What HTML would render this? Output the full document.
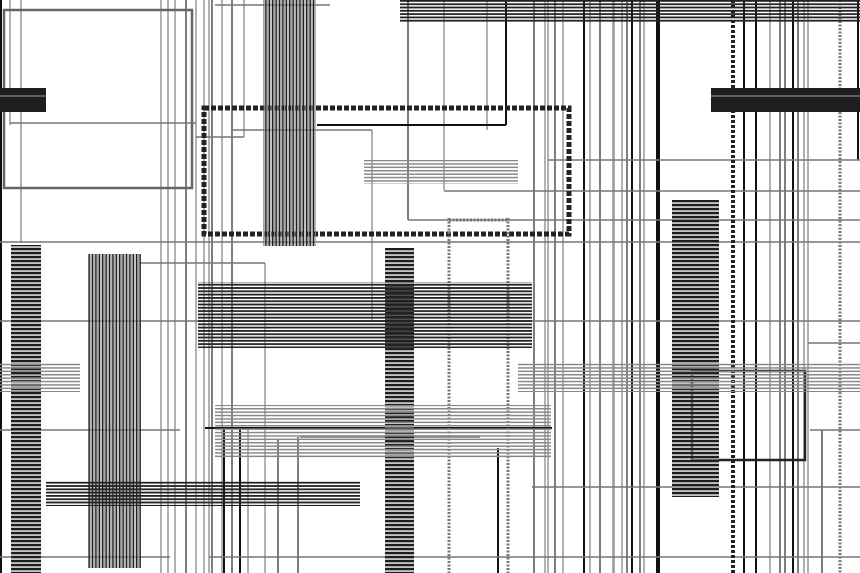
<!DOCTYPE html>
<html><head><meta charset="utf-8"><style>html,body{margin:0;padding:0;background:#fff}svg{display:block}</style></head>
<body>
<svg width="860" height="573" viewBox="0 0 860 573" xmlns="http://www.w3.org/2000/svg">
<defs>
<pattern id="hB" width="10" height="4" patternUnits="userSpaceOnUse"><rect width="10" height="2.2" fill="#1e1e1e"/><rect y="2.6" width="10" height="1" fill="#999"/></pattern>
<pattern id="hD" width="10" height="3.3" patternUnits="userSpaceOnUse"><rect width="10" height="1.8" fill="#222"/></pattern>
<pattern id="hG" width="10" height="3.4" patternUnits="userSpaceOnUse"><rect width="10" height="1.5" fill="#888"/></pattern>
<pattern id="vD" width="3.4" height="10" patternUnits="userSpaceOnUse"><rect width="1.5" height="10" fill="#222"/><rect x="2" width="1" height="10" fill="#999"/></pattern>
</defs>
<g fill="none">
<g stroke="#999" stroke-width="1.5">
<line x1="10" y1="0" x2="10" y2="125"/><line x1="21" y1="0" x2="21" y2="243"/>
<line x1="161" y1="0" x2="161" y2="573"/><line x1="168" y1="0" x2="168" y2="573"/><line x1="175" y1="0" x2="175" y2="573"/>
<line x1="196" y1="0" x2="196" y2="573"/><line x1="204" y1="0" x2="204" y2="573"/><line x1="209" y1="0" x2="209" y2="573"/>
<line x1="222" y1="0" x2="222" y2="573"/><line x1="244" y1="0" x2="244" y2="137"/><line x1="248" y1="430" x2="248" y2="573"/>
<line x1="265" y1="263" x2="265" y2="573"/><line x1="372" y1="130" x2="372" y2="320"/>
<line x1="444" y1="0" x2="444" y2="190"/><line x1="487" y1="0" x2="487" y2="130"/>
<line x1="545" y1="0" x2="545" y2="573"/><line x1="548" y1="0" x2="548" y2="573"/><line x1="563" y1="0" x2="563" y2="573"/>
<line x1="590" y1="0" x2="590" y2="573"/><line x1="614" y1="0" x2="614" y2="573"/><line x1="613" y1="0" x2="613" y2="573"/>
<line x1="644" y1="0" x2="644" y2="573"/><line x1="770" y1="0" x2="770" y2="573"/><line x1="808" y1="0" x2="808" y2="573"/>
<line x1="804" y1="0" x2="804" y2="573"/><line x1="622" y1="0" x2="622" y2="573"/>
</g>
<g stroke="#555" stroke-width="1.5">
<line x1="186" y1="0" x2="186" y2="573"/><line x1="212" y1="0" x2="212" y2="573"/><line x1="232" y1="0" x2="232" y2="573"/>
<line x1="408" y1="0" x2="408" y2="220"/><line x1="534" y1="0" x2="534" y2="573"/><line x1="555" y1="0" x2="555" y2="573"/>
<line x1="600" y1="0" x2="600" y2="573"/><line x1="627" y1="0" x2="627" y2="573"/><line x1="640" y1="0" x2="640" y2="573"/>
<line x1="780" y1="0" x2="780" y2="573"/><line x1="785" y1="0" x2="785" y2="573"/><line x1="798" y1="0" x2="798" y2="573"/>
<line x1="278" y1="440" x2="278" y2="573"/><line x1="298" y1="437" x2="298" y2="573"/><line x1="822" y1="430" x2="822" y2="573"/>
</g>
<g stroke="#111" stroke-width="2">
<line x1="1" y1="0" x2="1" y2="573"/><line x1="584" y1="0" x2="584" y2="573"/><line x1="632" y1="0" x2="632" y2="573"/>
<line x1="744" y1="0" x2="744" y2="573"/><line x1="756" y1="0" x2="756" y2="573"/><line x1="793" y1="0" x2="793" y2="573"/>
<line x1="858" y1="0" x2="858" y2="160"/><line x1="506" y1="0" x2="506" y2="125"/><line x1="317" y1="125" x2="506" y2="125"/>
<line x1="240" y1="428" x2="240" y2="573"/><line x1="224" y1="428" x2="224" y2="573"/><line x1="498" y1="448" x2="498" y2="573"/>
</g>
<line x1="658" y1="0" x2="658" y2="573" stroke="#111" stroke-width="4"/>
<g stroke="#777" stroke-width="1.5">
<line x1="0" y1="242" x2="860" y2="242"/><line x1="0" y1="321" x2="860" y2="321"/><line x1="0" y1="430" x2="180" y2="430"/>
<line x1="0" y1="557" x2="170" y2="557"/><line x1="209" y1="557" x2="860" y2="557"/><line x1="10" y1="123" x2="196" y2="123"/>
<line x1="548" y1="160" x2="860" y2="160"/><line x1="444" y1="191" x2="860" y2="191"/><line x1="408" y1="220" x2="860" y2="220"/>
<line x1="196" y1="137" x2="244" y2="137"/><line x1="232" y1="130" x2="372" y2="130"/><line x1="532" y1="487" x2="860" y2="487"/>
<line x1="300" y1="437" x2="480" y2="437"/><line x1="810" y1="430" x2="860" y2="430"/><line x1="215" y1="5" x2="330" y2="5"/>
<line x1="140" y1="263" x2="265" y2="263"/><line x1="808" y1="343" x2="860" y2="343"/>
</g>
<line x1="205" y1="428" x2="552" y2="428" stroke="#111" stroke-width="2"/>
<rect x="4" y="10" width="188" height="178" stroke="#666" stroke-width="2.5"/>
<rect x="204" y="108" width="365" height="126" stroke="#222" stroke-width="5" stroke-dasharray="5 2"/>
<rect x="692" y="371" width="113" height="89" stroke="#222" stroke-width="2.5"/>
<g stroke="#777" stroke-width="3" stroke-dasharray="2 1.5">
<line x1="449" y1="218" x2="449" y2="573"/><line x1="508" y1="218" x2="508" y2="573"/><line x1="840" y1="0" x2="840" y2="573"/>
<line x1="449" y1="220" x2="508" y2="220"/>
</g>
<line x1="733" y1="0" x2="733" y2="573" stroke="#222" stroke-width="4" stroke-dasharray="3 2"/>
</g>
<rect x="263" y="0" width="53" height="246" fill="url(#vD)"/>
<rect x="88" y="254" width="53" height="314" fill="url(#vD)"/>
<rect x="400" y="0" width="460" height="22" fill="url(#hD)"/>
<rect x="364" y="160" width="154" height="24" fill="url(#hG)"/>
<rect x="198" y="282" width="334" height="66" fill="url(#hD)"/>
<rect x="11" y="245" width="30" height="328" fill="url(#hB)"/>
<rect x="385" y="248" width="29" height="325" fill="url(#hB)"/>
<rect x="672" y="200" width="47" height="297" fill="url(#hB)"/>
<rect x="0" y="362" width="80" height="30" fill="url(#hG)"/>
<rect x="518" y="362" width="342" height="30" fill="url(#hG)"/>
<rect x="215" y="405" width="336" height="54" fill="url(#hG)"/>
<rect x="46" y="481" width="314" height="25" fill="url(#hD)"/>
<rect x="385" y="285" width="29" height="65" fill="#222" opacity="0.7"/>
<rect x="0" y="88" width="46" height="24" fill="#1e1e1e"/><line x1="0" y1="96" x2="46" y2="96" stroke="#999"/>
<rect x="711" y="88" width="149" height="24" fill="#1e1e1e"/><line x1="711" y1="96" x2="860" y2="96" stroke="#999"/>
</svg>
</body></html>
